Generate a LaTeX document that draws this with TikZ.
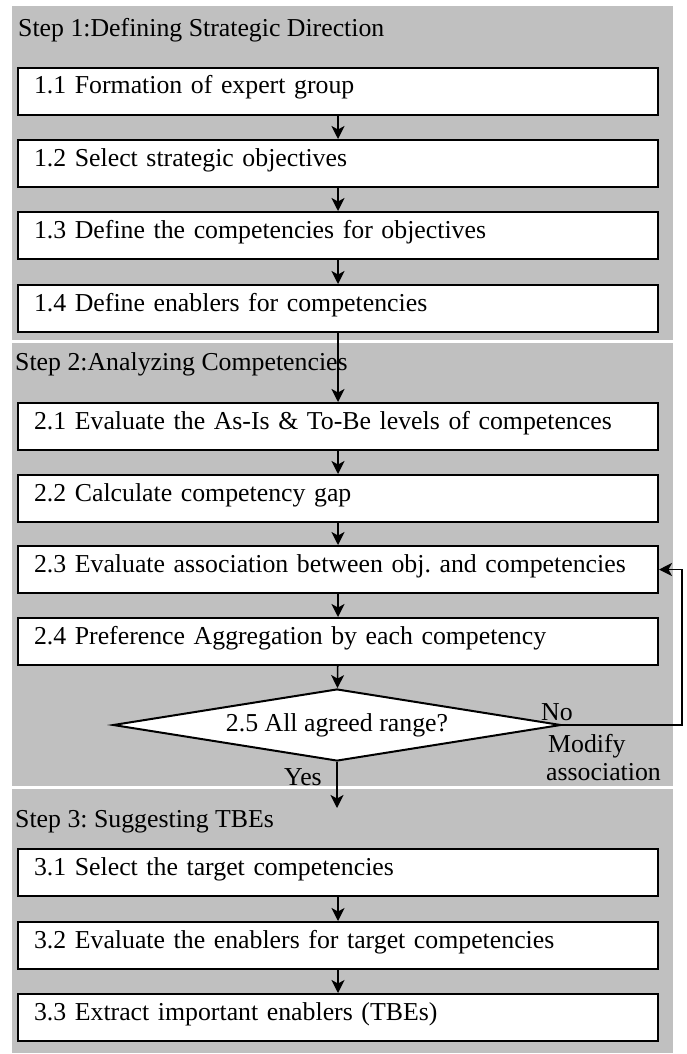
\documentclass[tikz,border=0pt]{standalone}
\usepackage{fontspec}
\setmainfont{Liberation Serif}
\usetikzlibrary{arrows.meta,shapes.geometric}
\definecolor{panelgray}{RGB}{192,192,192}
\newcommand\figfont{\fontsize{25.8pt}{31pt}\selectfont\frenchspacing}
\begin{document}
\begin{tikzpicture}[x=1pt,y=-1pt,
  panel/.style={fill=panelgray, draw=none},
  steptitle/.style={anchor=base west, inner sep=0pt, font=\figfont},
  stepbox/.style={draw, line width=2pt, fill=white, anchor=north west,
    inner xsep=16pt, inner ysep=0pt, text width=608pt, align=left,
    text height=26pt, text depth=21pt, font=\figfont},
  decision/.style={draw, line width=2pt, fill=white, shape=diamond, aspect=6.2,
    minimum width=448pt, minimum height=72pt, inner sep=0pt, font=\figfont},
  lbl/.style={anchor=base west, inner sep=0pt, font=\figfont},
  conn/.style={line width=1.6pt, -{Stealth[length=13pt,width=13pt,inset=3.5pt]}}]
\useasboundingbox (0,0) rectangle (686,1054);
% panels
\fill[panel] (12,6) rectangle (673,340);
\fill[panel] (12,343) rectangle (673,786);
\fill[panel] (12,789) rectangle (673,1053);
% titles
\node[steptitle] (t1) at (18,37) {Step 1:Defining Strategic Direction};
\node[steptitle] (t2) at (15,370) {Step 2:Analyzing Competencies};
\node[steptitle] (t3) at (15,827) {Step 3: Suggesting TBEs};
% step 1
\node[stepbox] (b11) at (17,67) {1.1 Formation of expert group};
\node[stepbox] (b12) at (17,139) {1.2 Select strategic objectives};
\node[stepbox] (b13) at (17,211) {1.3 Define the competencies for objectives};
\node[stepbox] (b14) at (17,284) {1.4 Define enablers for competencies};
% step 2
\node[stepbox] (b21) at (17,402) {2.1 Evaluate the As-Is \& To-Be levels of competences};
\node[stepbox] (b22) at (17,474) {2.2 Calculate competency gap};
\node[stepbox] (b23) at (17,545) {\mbox{2.3 Evaluate association between obj. and competencies}};
\node[stepbox] (b24) at (17,617) {2.4 Preference Aggregation by each competency};
\node[decision] (d25) at (337,725) {2.5 All agreed range?};
% step 3
\node[stepbox] (b31) at (17,848) {3.1 Select the target competencies};
\node[stepbox] (b32) at (17,921) {3.2 Evaluate the enablers for target competencies};
\node[stepbox] (b33) at (17,993) {3.3 Extract important enablers (TBEs)};
% labels
\node[lbl] (no) at (541,720) {No};
\node[lbl] (mod) at (548,752) {Modify};
\node[lbl] (assoc) at (546,780) {association};
\node[lbl] (yes) at (284,785) {Yes};
% connectors
\draw[conn] (b11) -- (b12);
\draw[conn] (b12) -- (b13);
\draw[conn] (b13) -- (b14);
\draw[conn] (b14) -- (b21);
\draw[conn] (b21) -- (b22);
\draw[conn] (b22) -- (b23);
\draw[conn] (b23) -- (b24);
\draw[conn] (b24) -- (d25);
\coordinate (fb) at (682,0);
\draw[conn] (d25.east) -| (fb |- b23.east) -- (b23.east);
\coordinate (yesend) at (337,808);
\draw[conn] (d25.south) -- (yesend);
\draw[conn] (b31) -- (b32);
\draw[conn] (b32) -- (b33);
\end{tikzpicture}
\end{document}
